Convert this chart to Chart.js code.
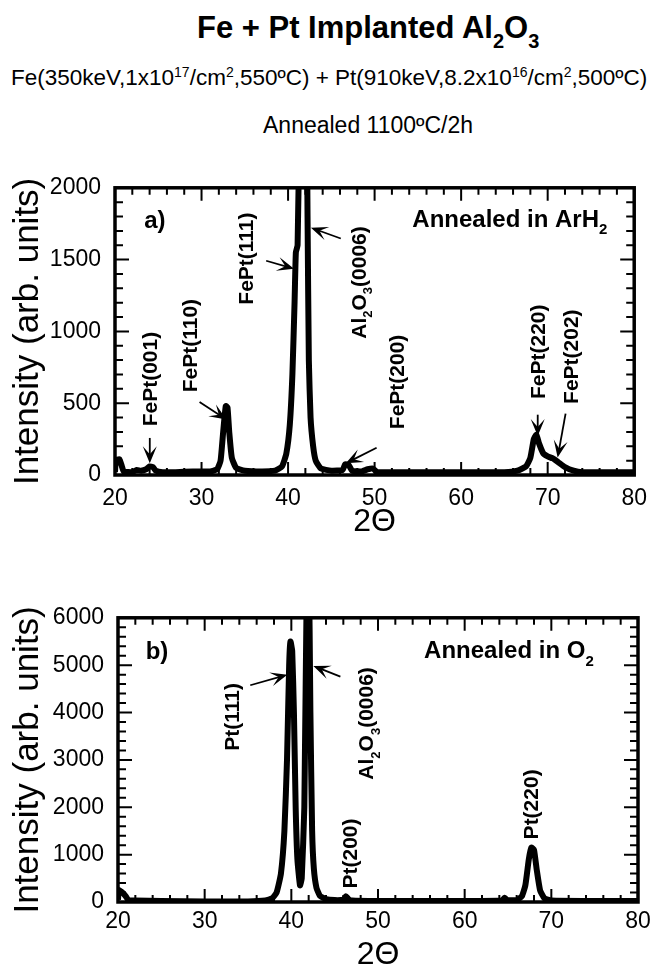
<!DOCTYPE html>
<html>
<head>
  <title>Fe + Pt Implanted Al2O3</title>
  <script src="https://cdn.jsdelivr.net/npm/chart.js"></script>
  <style>
    body { margin: 0; background: #fff; font-family: "Liberation Sans", Arial, sans-serif; color: #000; }
    #page { position: relative; width: 657px; height: 971px; overflow: hidden; }
    .txt { position: absolute; white-space: nowrap; line-height: 1; }
    #title { left: 197px; top: 12px; font-size: 31px; font-weight: bold; }
    #title sub { font-size: 20px; vertical-align: -10px; line-height: 0; }
    #sub1 { left: 11px; top: 67px; font-size: 22.5px; }
    #sub1 sup { font-size: 14px; vertical-align: 8px; line-height: 0; }
    #sub2 { left: 263px; top: 114px; font-size: 23px; }
    .box { position: absolute; left: 0; width: 657px; }
    #boxA { top: 160px; height: 380px; }
    #boxB { top: 590px; height: 381px; }
  </style>
</head>
<body>
<div id="page">
  <div class="txt" id="title">Fe + Pt Implanted Al<sub>2</sub>O<sub>3</sub></div>
  <div class="txt" id="sub1">Fe(350keV,1x10<sup>17</sup>/cm<sup>2</sup>,550ºC) + Pt(910keV,8.2x10<sup>16</sup>/cm<sup>2</sup>,500ºC)</div>
  <div class="txt" id="sub2">Annealed 1100ºC/2h</div>
  <div class="box" id="boxA"><canvas id="chartA"></canvas></div>
  <div class="box" id="boxB"><canvas id="chartB"></canvas></div>
</div>

<script>
// --- panel a) annealed in ArH2 ---
const twoThetaA = [20.0, 20.1, 20.5, 20.8, 21.0, 22.0, 22.5, 23.0, 23.6, 24.0, 24.4, 24.7, 25.5, 27.0, 29.0, 31.0,
  31.8, 32.2, 32.5, 32.8, 33.0, 33.2, 33.5, 34.0, 35.0, 37.0, 38.5, 39.3, 39.8, 40.2, 40.5, 40.75, 40.9, 41.1,
  41.3, 41.5, 41.7, 41.9, 42.1, 42.25, 42.4, 42.6, 42.9, 43.2, 43.8, 45.0, 46.3, 46.6, 47.0, 47.4, 48.5, 49.2, 49.8,
  50.3, 55.0, 60.0, 65.0, 66.5, 67.5, 68.0, 68.4, 68.7, 69.0, 69.5, 70.0, 70.6, 71.2, 72.0, 73.0, 74.0, 78.0, 80.0];
const intensityA = [20, 100, 110, 60, 25, 20, 35, 30, 40, 60, 55, 30, 20, 20, 25, 25,
  40, 100, 300, 480, 470, 300, 120, 50, 30, 25, 30, 60, 150, 350, 700, 1200, 1550, 1600,
  2400, 3500, 4000, 3500, 3000, 1800, 800, 400, 200, 100, 45, 30, 35, 75, 70, 30, 25, 40, 45,
  20, 20, 20, 20, 30, 60, 120, 250, 280, 220, 150, 130, 115, 90, 55, 30, 20, 20, 20];

// --- panel b) annealed in O2 ---
const twoThetaB = [20.0, 20.1, 20.5, 20.9, 21.2, 22.0, 25.0, 30.0, 35.0, 37.0, 37.8, 38.3, 38.8, 39.2, 39.5, 39.75,
  39.9, 40.1, 40.3, 40.5, 40.7, 41.0, 41.2, 41.5, 41.8, 42.0, 42.2, 42.4, 42.6, 42.9, 43.3, 44.0, 45.0, 46.0,
  46.3, 46.6, 47.0, 50.0, 55.0, 60.0, 64.3, 64.6, 64.9, 66.0, 66.6, 67.0, 67.4, 67.7, 68.0, 68.3, 68.7, 69.2,
  70.0, 75.0, 80.0];
const intensityB = [50, 250, 200, 120, 40, 30, 20, 10, 10, 30, 80, 200, 600, 1500, 3000, 5000,
  5500, 5300, 4000, 2000, 900, 350, 500, 2000, 7000, 7500, 4000, 1500, 700, 300, 130, 60, 40, 50,
  120, 60, 30, 20, 20, 20, 30, 90, 40, 40, 120, 350, 900, 1150, 1100, 700, 250, 80,
  30, 20, 20];

// peak labels (rotated, anchored at start of text) and arrows, in data units
const labelsA = [
  { text: 'FePt(001)', x: 24.14, y: 339 },
  { text: 'FePt(110)', x: 28.85, y: 576 },
  { text: 'FePt(111)', x: 35.29, y: 1186 },
  { text: 'Al_2O_3(0006)', x: 48.28, y: 949 },
  { text: 'FePt(200)', x: 52.76, y: 319 },
  { text: 'FePt(220)', x: 68.97, y: 529 },
  { text: 'FePt(202)', x: 72.87, y: 495 }
];
const arrowsA = [
  [24.02, 258, 24.02, 81],
  [29.77, 508, 32.87, 386],
  [37.47, 1492, 40.69, 1437],
  [46.09, 1647, 42.64, 1722],
  [50.23, 190, 46.67, 81],
  [68.85, 420, 68.85, 271],
  [72.07, 427, 71.15, 122]
];
const labelsB = [
  { text: 'Pt(111)', x: 33.29, y: 3193 },
  { text: 'Al_2O_3(0006)', x: 48.79, y: 2583 },
  { text: 'Pt(200)', x: 46.94, y: 285 },
  { text: 'Pt(220)', x: 67.75, y: 1322 }
];
const arrowsB = [
  [35.26, 4576, 39.54, 4800],
  [45.66, 4759, 42.54, 4983]
];

// draws text where "_c" makes c a subscript
function drawRich(ctx, text, x, y, size, align) {
  const parts = [];
  for (let i = 0; i < text.length; i++) {
    if (text[i] === '_') { parts.push({ t: text[i + 1], sub: true }); i++; }
    else if (parts.length && !parts[parts.length - 1].sub) parts[parts.length - 1].t += text[i];
    else parts.push({ t: text[i], sub: false });
  }
  const fontOf = p => 'bold ' + (p.sub ? Math.round(size * 0.62) : size) + 'px "Liberation Sans", Arial, sans-serif';
  let total = 0;
  parts.forEach(p => { ctx.font = fontOf(p); total += ctx.measureText(p.t).width; });
  let cx = align === 'right' ? x - total : (align === 'center' ? x - total / 2 : x);
  ctx.textAlign = 'left';
  ctx.textBaseline = 'middle';
  parts.forEach(p => {
    ctx.font = fontOf(p);
    ctx.fillText(p.t, cx, p.sub ? y + size * 0.42 : y);
    cx += ctx.measureText(p.t).width;
  });
}

function arrow(ctx, x1, y1, x2, y2) {
  const ang = Math.atan2(y2 - y1, x2 - x1);
  const hl = 15, hw = 7;
  ctx.lineWidth = 1.8;
  ctx.beginPath();
  ctx.moveTo(x1, y1);
  ctx.lineTo(x2 - Math.cos(ang) * 6, y2 - Math.sin(ang) * 6);
  ctx.stroke();
  const bx = x2 - Math.cos(ang) * hl, by = y2 - Math.sin(ang) * hl;
  const nx = -Math.sin(ang) * hw, ny = Math.cos(ang) * hw;
  ctx.beginPath();
  ctx.moveTo(x2, y2);
  ctx.lineTo(bx + nx - Math.cos(ang) * 2, by + ny - Math.sin(ang) * 2);
  ctx.lineTo(x2 - Math.cos(ang) * 9, y2 - Math.sin(ang) * 9);
  ctx.lineTo(bx - nx - Math.cos(ang) * 2, by - ny - Math.sin(ang) * 2);
  ctx.closePath();
  ctx.fill();
}

// frame and inward ticks on all four sides
const frameTicks = {
  id: 'frameTicks',
  afterDatasetsDraw(chart, args, opts) {
    const { ctx, chartArea: a, scales: { x, y } } = chart;
    ctx.save();
    ctx.strokeStyle = '#000';
    ctx.lineWidth = 2;
    ctx.beginPath();
    for (let v = x.min; v <= x.max + 1e-6; v += opts.xMinor) {
      const px = x.getPixelForValue(v);
      const len = Math.abs(v % opts.xMajor) < 1e-6 ? 13 : 7;
      ctx.moveTo(px, a.bottom); ctx.lineTo(px, a.bottom - len);
      ctx.moveTo(px, a.top); ctx.lineTo(px, a.top + len);
    }
    for (let v = y.min; v <= y.max + 1e-6; v += opts.yMinor) {
      const py = y.getPixelForValue(v);
      const len = Math.abs(v % opts.yMajor) < 1e-6 ? 14 : 8;
      ctx.moveTo(a.left, py); ctx.lineTo(a.left + len, py);
      ctx.moveTo(a.right, py); ctx.lineTo(a.right - len, py);
    }
    ctx.stroke();
    ctx.lineWidth = 3.5;
    ctx.strokeRect(a.left, a.top, a.right - a.left, a.bottom - a.top);
    ctx.restore();
  }
};

const notes = {
  id: 'notes',
  afterDatasetsDraw(chart, args, opts) {
    const { ctx, scales: { x, y } } = chart;
    ctx.save();
    ctx.fillStyle = '#000';
    ctx.strokeStyle = '#000';
    opts.labels.forEach(l => {
      ctx.save();
      ctx.translate(x.getPixelForValue(l.x), y.getPixelForValue(l.y));
      ctx.rotate(-Math.PI / 2);
      drawRich(ctx, l.text, 0, 0, 21, 'left');
      ctx.restore();
    });
    opts.arrows.forEach(r => arrow(ctx, x.getPixelForValue(r[0]), y.getPixelForValue(r[1]),
      x.getPixelForValue(r[2]), y.getPixelForValue(r[3])));
    drawRich(ctx, opts.panel, x.getPixelForValue(opts.panelAt[0]), y.getPixelForValue(opts.panelAt[1]), 24, 'center');
    drawRich(ctx, opts.gas, x.getPixelForValue(opts.gasAt[0]), y.getPixelForValue(opts.gasAt[1]), 24, 'right');
    ctx.restore();
  }
};

function makeChart(id, xs, ys, cfg) {
  const pts = xs.map((v, i) => ({ x: v, y: ys[i] }));
  return new Chart(document.getElementById(id), {
    type: 'line',
    data: { datasets: [{ data: pts, borderColor: '#000', borderWidth: 6, pointRadius: 0, tension: 0.15 }] },
    options: {
      responsive: true,
      maintainAspectRatio: false,
      animation: false,
      events: [],
      layout: { padding: { top: cfg.padTop, right: 19, left: 0, bottom: 0 } },
      plugins: {
        legend: { display: false },
        tooltip: { enabled: false },
        frameTicks: { xMinor: 2, xMajor: 10, yMinor: cfg.yMinor, yMajor: cfg.yStep },
        notes: { labels: cfg.labels, arrows: cfg.arrows, panel: cfg.panel, panelAt: cfg.panelAt, gas: cfg.gas, gasAt: cfg.gasAt }
      },
      scales: {
        x: {
          type: 'linear', min: 20, max: 80,
          afterFit: s => { s.height = cfg.xHeight; },
          ticks: { stepSize: 10, color: '#000', padding: cfg.xPad, maxRotation: 0, callback: v => String(v),
            font: { size: 23, family: '"Liberation Sans", Arial, sans-serif' } },
          grid: { drawOnChartArea: false, drawTicks: false },
          border: { display: false },
          title: { display: true, text: '2Θ', color: '#000', padding: { top: 0, bottom: cfg.titlePad },
            font: { size: 32, lineHeight: 1, family: '"Liberation Sans", Arial, sans-serif' } }
        },
        y: {
          min: 0, max: cfg.yMax,
          afterFit: s => { s.width = cfg.yWidth; },
          ticks: { stepSize: cfg.yStep, color: '#000', padding: 14, callback: v => String(v),
            font: { size: 23, family: '"Liberation Sans", Arial, sans-serif' } },
          grid: { drawOnChartArea: false, drawTicks: false },
          border: { display: false },
          title: { display: true, text: 'Intensity (arb. units)', color: '#000', padding: { top: 7, bottom: 0 },
            font: { size: 35, lineHeight: 1.2, family: '"Liberation Sans", Arial, sans-serif' } }
        }
      }
    },
    plugins: [frameTicks, notes]
  });
}

makeChart('chartA', twoThetaA, intensityA, {
  padTop: 21, xHeight: 65, xPad: 10, titlePad: 2, yWidth: 115, yMax: 2000, yStep: 500, yMinor: 100,
  labels: labelsA, arrows: arrowsA, panel: 'a)', panelAt: [24.6, 1763], gas: 'Annealed in ArH_2', gasAt: [76.9, 1776]
});
makeChart('chartB', twoThetaB, intensityB, {
  padTop: 17, xHeight: 69, xPad: 6, titlePad: 0, yWidth: 118, yMax: 6000, yStep: 1000, yMinor: 200,
  labels: labelsB, arrows: arrowsB, panel: 'b)', panelAt: [24.5, 5268], gas: 'Annealed in O_2', gasAt: [74.9, 5288]
});
</script>
</body>
</html>
